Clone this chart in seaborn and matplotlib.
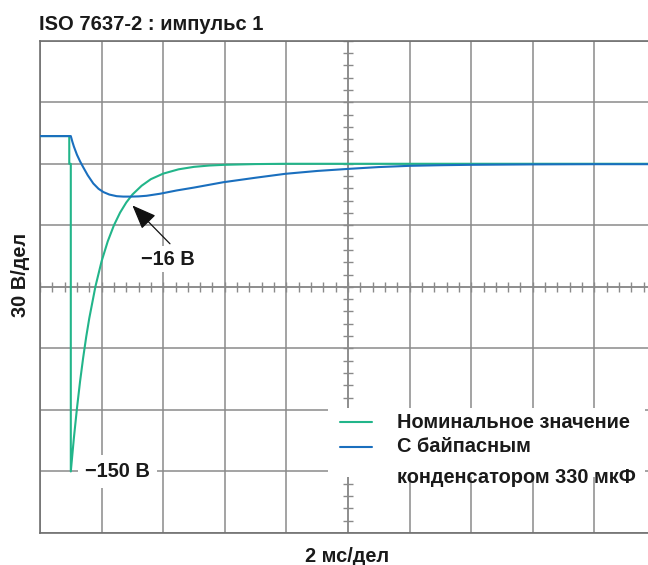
import matplotlib
matplotlib.use("Agg")
import matplotlib.pyplot as plt
from matplotlib.patches import Rectangle
import numpy as np
import pandas as pd
import seaborn as sns

# ---- data (time in ms, voltage in V) ----
t_nominal = [0.0, 0.95, 0.95, 1.0, 1.0, 1.1, 1.2, 1.3, 1.4, 1.5, 1.6, 1.8, 2.0,
             2.2, 2.4, 2.6, 2.8, 3.0, 3.3, 3.6, 4.0, 4.5, 5.0, 5.5, 6.0, 7.0,
             8.0, 20.0]
v_nominal = [13.5, 13.5, 0.0, 0.0, -150.0, -133.7, -119.2, -106.2, -94.7, -84.4,
             -75.3, -59.8, -47.5, -37.8, -30.0, -23.8, -18.9, -15.0, -10.7, -7.5,
             -4.8, -2.7, -1.5, -0.85, -0.5, -0.15, 0.0, 0.0]

t_bypass = [0.0, 1.0, 1.05, 1.1, 1.2, 1.3, 1.4, 1.55, 1.73, 1.9, 2.06, 2.25,
            2.49, 2.7, 2.95, 3.2, 3.46, 3.9, 4.44, 5.0, 5.95, 7.0, 7.96, 9.0,
            10.0, 11.0, 12.0, 13.0, 14.0, 16.0, 18.0, 20.0]
v_bypass = [13.5, 13.5, 10.8, 8.4, 4.4, 1.2, -1.6, -5.6, -9.6, -12.2, -13.8,
            -15.0, -15.8, -16.0, -16.0, -15.9, -15.6, -14.6, -13.0, -11.6, -9.0,
            -6.8, -4.9, -3.5, -2.5, -1.6, -1.0, -0.7, -0.5, -0.3, -0.2, -0.2]

series_names = ["Номинальное значение", "С байпасным\nконденсатором 330 мкФ"]
series_colors = ["#22b58a", "#1a6fbe"]

peak_label = "−150 В"
dip_label = "−16 В"
title_text = "ISO 7637-2 : импульс 1"
xlabel_text = "2 мс/дел"
ylabel_text = "30 В/дел"

# ---- layout ----
W, H = 648, 565
sns.set_theme(style="white")
plt.rcParams["font.family"] = ["Liberation Sans", "DejaVu Sans"]
plt.rcParams["font.weight"] = "bold"

fig = plt.figure(figsize=(W / 100, H / 100), dpi=100)
x0, x1 = 40, 656          # 10 divisions of 2 ms
y0, y1 = 40.7, 533.0      # 8 divisions of 30 V
ax = fig.add_axes([x0 / W, 1 - y1 / H, (x1 - x0) / W, (y1 - y0) / H])

XMIN, XMAX = 0.0, 20.0
YMIN, YMAX = -180.0, 60.0
ax.set_xlim(XMIN, XMAX)
ax.set_ylim(YMIN, YMAX)

grid_color = "#8a8a8a"
ax.set_xticks(np.arange(0, 20.1, 2))
ax.set_yticks(np.arange(-180, 60.1, 30))
ax.tick_params(length=0, labelbottom=False, labelleft=False)
ax.grid(True, color=grid_color, linewidth=1.1)
for side in ["left", "top", "bottom", "right"]:
    ax.spines[side].set_color("#6f6f6f")
    ax.spines[side].set_linewidth(1.2)

# centre cross with sub-division ticks
cx, cy = 10.0, -60.0
ax.axvline(cx, color=grid_color, linewidth=1.1, zorder=1)
ax.axhline(cy, color=grid_color, linewidth=1.1, zorder=1)
px_t = (XMAX - XMIN) / (x1 - x0)
px_v = (YMAX - YMIN) / (y1 - y0)
ax.vlines(np.arange(0, 20.01, 0.4), cy - 5 * px_v, cy + 5 * px_v,
          color=grid_color, linewidth=1.0, zorder=1)
ax.hlines(np.arange(-180, 60.01, 6), cx - 5 * px_t, cx + 5 * px_t,
          color=grid_color, linewidth=1.0, zorder=1)

# ---- curves ----
df = pd.concat([
    pd.DataFrame({"t": t_nominal, "V": v_nominal, "series": series_names[0]}),
    pd.DataFrame({"t": t_bypass, "V": v_bypass, "series": series_names[1]}),
], ignore_index=True)
sns.lineplot(data=df, x="t", y="V", hue="series", palette=series_colors,
             sort=False, estimator=None, units="series", legend=False,
             linewidth=1.5, ax=ax, zorder=3)
ax.set_xlabel("")
ax.set_ylabel("")

# ---- annotations ----
FS = 14.4
i_peak = int(np.argmin(v_nominal))
ax.text(t_nominal[i_peak] + 1.52, v_nominal[i_peak], peak_label,
        fontsize=FS, fontweight="bold", color="#1a1a1a",
        ha="center", va="center",
        bbox=dict(facecolor="white", edgecolor="none", pad=5), zorder=4)

i_dip = int(np.argmin(v_bypass))
t_dip, v_dip = t_bypass[i_dip], v_bypass[i_dip]
ax.text(t_dip + 1.46, v_dip - 30.6, dip_label, fontsize=FS, fontweight="bold",
        color="#1a1a1a", ha="center", va="center",
        bbox=dict(facecolor="white", edgecolor="none", pad=2.5), zorder=4)
ax.annotate("", xy=(t_dip + 0.3, v_dip - 4.3), xytext=(t_dip + 1.52, v_dip - 23.0),
            arrowprops=dict(arrowstyle="-|>,head_length=1.25,head_width=0.5",
                            color="#111111", linewidth=0.9, shrinkA=0, shrinkB=0),
            zorder=5)

# ---- legend ----
ax.add_patch(Rectangle(((328 - x0) / (x1 - x0), 1 - (477 - y0) / (y1 - y0)),
                       (645 - 328) / (x1 - x0), (477 - 408) / (y1 - y0),
                       transform=ax.transAxes, facecolor="white", edgecolor="none",
                       zorder=2))
legend_rows = [422.3, 446.7]
for name, color, yy in zip(series_names, series_colors, legend_rows):
    ya = 1 - (yy - y0) / (y1 - y0)
    ax.plot([(340 - x0) / (x1 - x0), (372 - x0) / (x1 - x0)], [ya, ya],
            transform=ax.transAxes, color=color, linewidth=1.5, zorder=4)
text_lines = [series_names[0]] + series_names[1].split("\n")
for s, yy in zip(text_lines, [422.3, 446.7, 477.5]):
    ax.text((397 - x0) / (x1 - x0), 1 - (yy - y0) / (y1 - y0), s,
            transform=ax.transAxes, fontsize=FS, fontweight="bold",
            color="#1a1a1a", ha="left", va="center", zorder=4)

# ---- titles ----
fig.text(39 / W, 1 - 24 / H, title_text, fontsize=14.5, fontweight="bold",
         color="#1a1a1a", ha="left", va="center")
fig.text(347 / W, 1 - 556 / H, xlabel_text, fontsize=FS, fontweight="bold",
         color="#1a1a1a", ha="center", va="center")
fig.text(20 / W, 1 - 275 / H, ylabel_text, fontsize=FS, fontweight="bold",
         color="#1a1a1a", ha="center", va="center", rotation=90)

fig.savefig("out.png", dpi=100)
